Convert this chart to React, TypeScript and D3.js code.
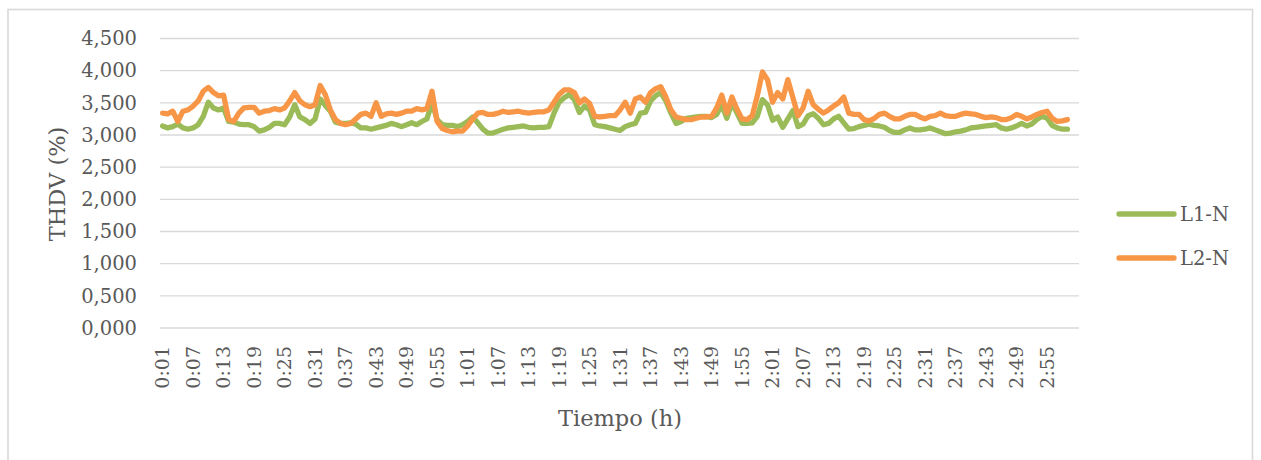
import React from "react";
import * as d3 from "d3";

// ---- data ----
const categories: string[] = Array.from({ length: 180 }, (_, k) => {
  const m = k + 1;
  return `${Math.floor(m / 60)}:${String(m % 60).padStart(2, "0")}`;
});

const seriesNames = ["L1-N", "L2-N"];
const seriesColors = ["#9BBB59", "#F79646"];

const l1n: number[] = [
  3.14, 3.11, 3.13, 3.17, 3.11, 3.09, 3.11, 3.16, 3.29, 3.51, 3.42, 3.39, 3.42, 3.21, 3.2, 3.17, 3.16, 3.16, 3.13, 3.06,
  3.08, 3.12, 3.18, 3.18, 3.16, 3.28, 3.47, 3.28, 3.24, 3.18, 3.25, 3.56, 3.46, 3.37, 3.2, 3.18, 3.18, 3.19, 3.17, 3.11,
  3.11, 3.09, 3.11, 3.13, 3.15, 3.18, 3.16, 3.13, 3.16, 3.19, 3.16, 3.21, 3.25, 3.5, 3.24, 3.16, 3.15, 3.15, 3.13,
  3.16, 3.21, 3.28, 3.19, 3.09, 3.03, 3.03, 3.06, 3.09, 3.11, 3.12, 3.13, 3.14, 3.12, 3.11, 3.12, 3.12, 3.13, 3.34, 3.51,
  3.58, 3.63, 3.55, 3.35, 3.45, 3.39, 3.16, 3.14, 3.13, 3.11, 3.09, 3.07, 3.13, 3.16, 3.18, 3.34, 3.35, 3.53, 3.61, 3.66,
  3.53, 3.34, 3.18, 3.21, 3.26, 3.27, 3.28, 3.29, 3.29, 3.27, 3.32, 3.47, 3.26, 3.5, 3.34, 3.18, 3.18, 3.19, 3.29, 3.55,
  3.47, 3.23, 3.28, 3.12, 3.25, 3.38, 3.13, 3.17, 3.3, 3.33, 3.26, 3.16, 3.18, 3.25, 3.29, 3.19, 3.09, 3.1, 3.13, 3.15,
  3.17, 3.15, 3.14, 3.12, 3.07, 3.04, 3.04, 3.08, 3.11, 3.08, 3.08, 3.09, 3.11, 3.08, 3.05, 3.02, 3.03, 3.05, 3.06, 3.08,
  3.11, 3.12, 3.13, 3.14, 3.15, 3.16, 3.11, 3.09, 3.11, 3.14, 3.18, 3.14, 3.17, 3.24, 3.29, 3.26, 3.15, 3.11, 3.09, 3.09,
];

const l2n: number[] = [
  3.34, 3.33, 3.37, 3.21, 3.37, 3.39, 3.45, 3.53, 3.68, 3.74, 3.66, 3.61, 3.62, 3.24, 3.21, 3.34, 3.42, 3.43, 3.43, 3.34,
  3.37, 3.38, 3.41, 3.39, 3.42, 3.53, 3.66, 3.53, 3.47, 3.44, 3.47, 3.77, 3.63, 3.39, 3.24, 3.18, 3.16, 3.18, 3.25, 3.32,
  3.34, 3.29, 3.5, 3.29, 3.33, 3.34, 3.32, 3.34, 3.37, 3.37, 3.41, 3.39, 3.41, 3.68, 3.21, 3.1, 3.07, 3.05, 3.06,
  3.06, 3.14, 3.25, 3.34, 3.35, 3.32, 3.32, 3.34, 3.37, 3.35, 3.36, 3.37, 3.35, 3.34, 3.35, 3.36, 3.36, 3.39, 3.51, 3.63,
  3.7, 3.7, 3.66, 3.5, 3.56, 3.49, 3.29, 3.28, 3.29, 3.3, 3.3, 3.39, 3.51, 3.34, 3.56, 3.59, 3.51, 3.66, 3.72, 3.75,
  3.59, 3.39, 3.28, 3.26, 3.24, 3.24, 3.26, 3.28, 3.28, 3.29, 3.42, 3.62, 3.34, 3.59, 3.4, 3.25, 3.24, 3.3, 3.61, 3.98,
  3.86, 3.51, 3.66, 3.56, 3.86, 3.58, 3.3, 3.42, 3.68, 3.47, 3.4, 3.34, 3.39, 3.45, 3.5, 3.59, 3.34, 3.32, 3.32, 3.24,
  3.22, 3.26, 3.32, 3.34, 3.29, 3.25, 3.25, 3.29, 3.32, 3.32, 3.28, 3.25, 3.29, 3.3, 3.34, 3.3, 3.29, 3.29, 3.32, 3.34,
  3.33, 3.32, 3.29, 3.27, 3.28, 3.27, 3.24, 3.24, 3.27, 3.32, 3.29, 3.25, 3.28, 3.32, 3.35, 3.37, 3.26, 3.21, 3.22, 3.24,
];

const yTicks = [0, 0.5, 1, 1.5, 2, 2.5, 3, 3.5, 4, 4.5];
const xLabelEvery = 6;
const xTitle = "Tiempo (h)";
const yTitle = "THDV (%)";

// ---- layout ----
const W = 1261;
const H = 460;
const plotLeft = 160;
const plotRight = 1079;
const plotTop = 38.5;
const plotBottom = 328;
const FONT = "'DejaVu Serif', 'Liberation Serif', serif";
const TEXT = "#595959";
const GRID = "#D9D9D9";

export default function App() {
  const x = d3
    .scalePoint<string>()
    .domain(categories)
    .range([162.6, 1072.5]);
  const y = d3.scaleLinear().domain([0, 4.5]).range([plotBottom, plotTop]);
  const fmt = (v: number) => d3.format(".3f")(v).replace(".", ",");

  const series = [l1n, l2n];
  const line = d3
    .line<number>()
    .x((_, i) => x(categories[i]) as number)
    .y((d) => y(d));

  return (
    <svg
      width={W}
      height={H}
      style={{ position: "absolute", left: 0, top: 0, background: "#fff" }}
      fontFamily={FONT}
    >
      <rect x={0} y={0} width={W} height={H} fill="#fff" />
      <rect x={8} y={9.5} width={1244.5} height={470} fill="#fff" stroke={GRID} strokeWidth={1.6} />

      {/* gridlines */}
      {yTicks.map((t) => (
        <line key={t} x1={plotLeft} x2={plotRight} y1={y(t)} y2={y(t)} stroke={GRID} strokeWidth={1.4} />
      ))}

      {/* y tick labels */}
      {yTicks.map((t) => (
        <text key={"yl" + t} x={137} y={y(t)} dy="0.35em" textAnchor="end" fontSize={19.5} fill={TEXT}>
          {fmt(t)}
        </text>
      ))}

      {/* x tick labels */}
      {categories.map((c, i) =>
        i % xLabelEvery === 0 && i < 179 ? (
          <text
            key={"xl" + c}
            transform={`translate(${x(c)},${346}) rotate(-90)`}
            textAnchor="end"
            dy="0.35em"
            fontSize={19}
            fill={TEXT}
          >
            {c}
          </text>
        ) : null
      )}

      {/* axis titles */}
      <text x={620} y={426} textAnchor="middle" fontSize={22.5} fill={TEXT}>
        {xTitle}
      </text>
      <text transform={`translate(65,184) rotate(-90)`} textAnchor="middle" fontSize={22.5} fill={TEXT}>
        {yTitle}
      </text>

      {/* series lines */}
      {series.map((s, k) => (
        <path
          key={seriesNames[k]}
          d={line(s) as string}
          fill="none"
          stroke={seriesColors[k]}
          strokeWidth={5.3}
          strokeLinejoin="round"
          strokeLinecap="round"
        />
      ))}

      {/* legend */}
      {seriesNames.map((n, k) => (
        <g key={"lg" + n} transform={`translate(0,${214 + k * 44})`}>
          <line x1={1119} x2={1174} y1={0} y2={0} stroke={seriesColors[k]} strokeWidth={5.3} strokeLinecap="round" />
          <text x={1180} y={0} dy="0.35em" fontSize={19.5} fill={TEXT}>
            {n}
          </text>
        </g>
      ))}
    </svg>
  );
}
